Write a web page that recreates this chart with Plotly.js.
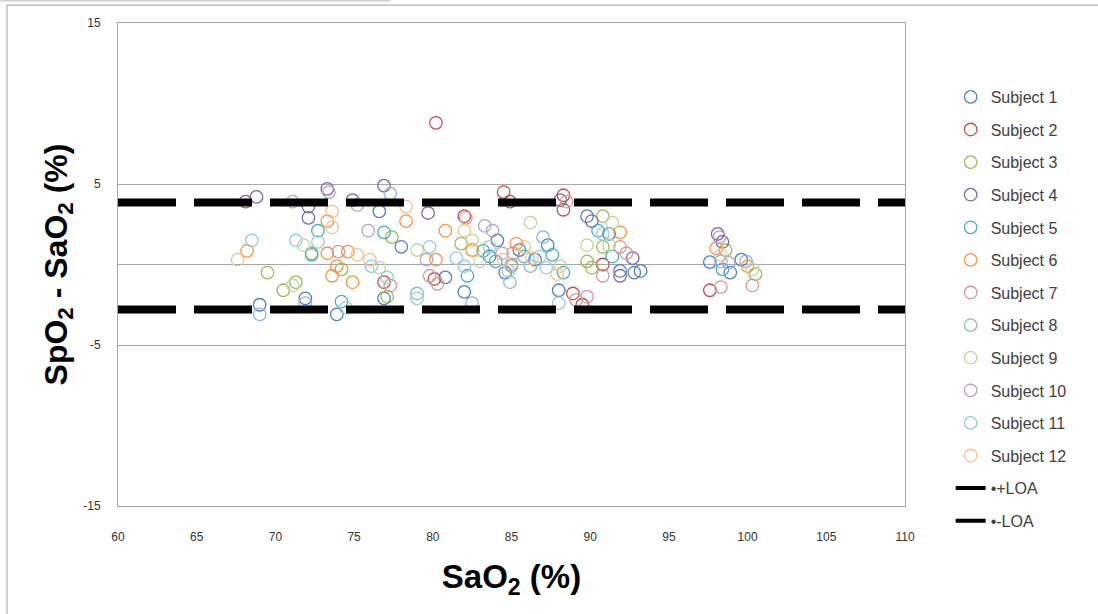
<!DOCTYPE html>
<html>
<head>
<meta charset="utf-8">
<script src="https://cdn.plot.ly/plotly-3.0.1.min.js"></script>
<style>html,body{margin:0;padding:0;background:#fff;}#chart{width:1098px;height:614px;}</style>
</head>
<body>
<div id="chart"></div>
<script>
// ---- data ----
const subjectNames = ["Subject 1","Subject 2","Subject 3","Subject 4","Subject 5","Subject 6","Subject 7","Subject 8","Subject 9","Subject 10","Subject 11","Subject 12"];

const s1x = [69.0,71.9,73.9,76.6,78.0,76.9,80.8,84.1,83.6,87.3,84.6,82.0,88.0,89.8,91.2,91.9,92.8,97.6,98.9,99.6,93.2,85.5,86.5];
const s1y = [-2.5,-2.1,-3.1,3.3,1.1,-2.1,-0.8,1.5,0.5,1.2,-0.5,-1.7,-1.6,3.0,1.9,-0.4,-0.5,0.15,-0.5,0.3,-0.4,0.9,0.3];

const s2x = [80.2,76.9,80.1,82.0,84.5,84.9,88.3,88.3,90.8,88.9,89.5,97.6];
const s2y = [8.8,-1.1,-0.9,3.0,4.5,3.9,4.3,3.4,0.0,-1.8,-2.5,-1.6];

const s3x = [69.5,70.5,71.3,72.3,74.2,77.4,77.1,85.0,90.8,90.8,89.8,90.1,98.6,100.5,81.8];
const s3y = [-0.5,-1.6,-1.1,0.7,-0.3,1.7,-2.0,-0.1,3.0,1.1,0.2,-0.2,0.9,-0.6,1.3];

const s4x = [68.1,68.8,72.1,72.1,73.3,74.9,76.9,79.7,88.1,90.1,92.7,91.9,98.1,98.4];
const s4y = [3.9,4.2,3.6,2.9,4.7,4.0,4.9,3.2,4.0,2.7,0.4,-0.7,1.9,1.4];

const s5x = [72.3,72.7,74.2,76.9,83.2,85.8,88.3,82.2,90.5,91.4,98.4,84.0,87.6];
const s5y = [0.6,2.1,-2.3,2.0,0.85,0.5,-0.5,-0.7,2.1,0.5,-0.3,0.2,0.6];

const s6x = [68.2,73.3,73.3,73.9,73.6,74.9,74.6,78.3,80.2,80.8,82.5,91.9,98.0,100.0,85.3];
const s6y = [0.85,2.7,0.7,-0.1,-0.7,-1.1,0.8,2.7,0.3,2.1,0.9,2.0,1.0,-0.1,1.3];

const s7x = [74.0,77.3,80.3,79.8,82.1,85.1,88.5,91.9,92.3,90.8,89.1,89.8,100.3,98.3];
const s7y = [0.8,-1.3,-1.2,-0.7,2.9,0.7,3.9,1.1,0.7,-0.7,-2.2,-2.0,-1.3,-1.4];

const s8x = [69.0,71.1,71.9,77.3,79.0,83.3,87.0,86.2,84.9,82.5,98.3,99.9];
const s8y = [-3.1,3.9,-2.4,4.4,-1.8,2.4,1.7,-0.1,-1.1,-2.4,0.2,0.2];

const s9x = [71.1,71.8,76.6,79.0,82.5,86.2,88.1,91.4,89.8,91.2,100.3,83.0];
const s9y = [-1.3,1.2,-0.2,0.9,1.5,2.6,-0.1,2.6,1.2,1.2,-0.3,0.2];

const s10x = [73.4,75.2,75.9,79.6,83.8,84.4,98.2,98.8,85.0];
const s10y = [4.5,3.7,2.1,0.3,2.1,0.7,1.7,0.1,0.0];

const s11x = [68.5,71.3,72.7,74.5,76.1,77.1,79.8,79.0,83.6,86.8,87.2,82.0,88.0,90.8,81.5,84.8];
const s11y = [1.5,1.5,1.4,-2.7,-0.1,-0.8,1.1,-2.1,1.1,0.5,-0.2,-0.1,-2.4,1.9,0.4,-0.4];

const s12x = [67.6,73.6,73.6,75.2,76.0,78.3,82.0,85.8,87.9,98.3,84.5,86.3];
const s12y = [0.3,3.3,2.3,0.6,0.3,3.6,2.1,1.1,-0.6,0.6,0.3,0.4];

const loaX = [60, 110];
const upperLOA = [3.85, 3.85];
const lowerLOA = [-2.8, -2.8];
const loaNames = ["•+LOA", "•-LOA"];
const xTickVals = [60,65,70,75,80,85,90,95,100,105,110];
const yTickVals = [-15,-5,5,15];
const yTickText = ["-15","-5","5","15"];

// ---- styles ----
const colors = ["#4F81BD","#C0504D","#9BBB59","#8064A2","#4BACC6","#F79646","#D99694","#95B3D7","#C3D69B","#B3A2C7","#93CDDD","#FAC090"];
const xs = [s1x,s2x,s3x,s4x,s5x,s6x,s7x,s8x,s9x,s10x,s11x,s12x];
const ys = [s1y,s2y,s3y,s4y,s5y,s6y,s7y,s8y,s9y,s10y,s11y,s12y];

const traces = subjectNames.map((n,i)=>({
  type:'scatter', mode:'markers', name:n, x:xs[i], y:ys[i], legendgroup:'g'+i,
  marker:{symbol:'circle-open', size:12.5, color:colors[i], line:{width:1.3, color:colors[i]}},
  hoverinfo:'x+y'
}));
// LOA lines (drawn), legend shown via thin legend-only entries
traces.push({type:'scatter', mode:'lines', name:loaNames[0], x:loaX, y:upperLOA, showlegend:false,
  line:{color:'#000', width:8, dash:'58px,18px'}});
traces.push({type:'scatter', mode:'lines', name:loaNames[1], x:loaX, y:lowerLOA, showlegend:false,
  line:{color:'#000', width:8, dash:'58px,18px'}});
traces.push({type:'scatter', mode:'lines', name:loaNames[0], x:[null], y:[null], legendgroup:'u',
  line:{color:'#000', width:4}});
traces.push({type:'scatter', mode:'lines', name:loaNames[1], x:[null], y:[null], legendgroup:'l',
  line:{color:'#000', width:4}});

const layout = {
  width:1098, height:614,
  paper_bgcolor:'#fff', plot_bgcolor:'#fff',
  margin:{l:118, r:193, t:23, b:108},
  showlegend:true,
  legend:{x:1.058, xanchor:'left', y:0.882, yanchor:'top', tracegroupgap:8.8,
    font:{family:'Liberation Sans, Arial, sans-serif', size:16, color:'#404040'}, bgcolor:'rgba(0,0,0,0)'},
  xaxis:{range:[60,110], tickvals:xTickVals, showgrid:false, zeroline:false,
    showline:true, linecolor:'#A6A6A6', linewidth:1, mirror:true,
    ticks:'outside', ticklen:20, tickcolor:'rgba(0,0,0,0)',
    tickfont:{family:'Liberation Sans Narrow, Liberation Sans, Arial', size:12, color:'#333'},
    title:{text:'SaO<sub>2</sub> (%)', font:{family:'Liberation Sans, Arial, sans-serif', size:33, color:'#000', weight:'bold'}, standoff:21}},
  yaxis:{range:[-15,15], tickvals:yTickVals, ticktext:yTickText, showgrid:true, gridcolor:'#A6A6A6', gridwidth:1,
    zeroline:true, zerolinecolor:'#A6A6A6', zerolinewidth:1,
    showline:true, linecolor:'#A6A6A6', linewidth:1, mirror:true,
    ticks:'outside', ticklen:14, tickcolor:'rgba(0,0,0,0)',
    tickfont:{family:'Liberation Sans Narrow, Liberation Sans, Arial', size:12, color:'#333'},
    title:{text:'SpO<sub>2</sub> - SaO<sub>2</sub> (%)', font:{family:'Liberation Sans, Arial, sans-serif', size:32, color:'#000', weight:'bold'}, standoff:6}},
  shapes:[
    {type:'rect', xref:'paper', yref:'paper', x0:-0.141, x1:1.26, y0:1.037, y1:-0.25, line:{color:'#BFBFBF', width:1.5}, fillcolor:'rgba(0,0,0,0)', layer:'below'},
    {type:'line', xref:'paper', yref:'paper', x0:-0.15, x1:0.346, y0:1.046, y1:1.046, line:{color:'#D0D0D0', width:1.5}}
  ]
};

Plotly.newPlot('chart', traces, layout, {displayModeBar:false, staticPlot:true});
</script>
</body>
</html>
